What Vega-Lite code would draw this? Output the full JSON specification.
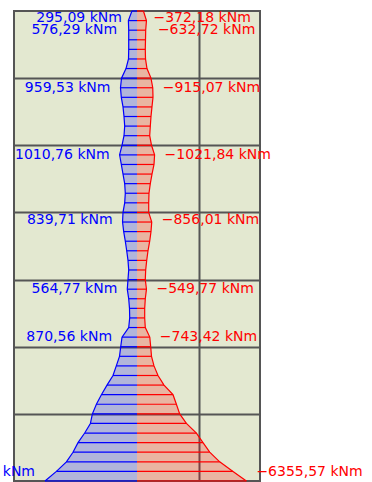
{
  "$schema": "https://vega.github.io/schema/vega-lite/v6.json",
  "width": 246,
  "height": 470,
  "autosize": {"type": "none"},
  "padding": {"left": 14, "top": 11, "right": 112, "bottom": 1},
  "background": "white",
  "config": {
    "view": {"fill": "#e3e8d0", "stroke": "#555555", "strokeWidth": 2},
    "axis": {"domain": false, "ticks": false, "labels": false, "grid": false},
    "text": {"font": "DejaVu Sans", "fontSize": 14}
  },
  "datasets": {
    "profile": [
      {"h": 0, "series": "Mmax", "M": 5346}, {"h": 0, "series": "Mmin", "M": -6355.57},
      {"h": 0.429, "series": "Mmax", "M": 4683}, {"h": 0.429, "series": "Mmin", "M": -5578},
      {"h": 0.857, "series": "Mmax", "M": 4102}, {"h": 0.857, "series": "Mmin", "M": -4805},
      {"h": 1.286, "series": "Mmax", "M": 3719}, {"h": 1.286, "series": "Mmin", "M": -4224},
      {"h": 1.714, "series": "Mmax", "M": 3428}, {"h": 1.714, "series": "Mmin", "M": -3835},
      {"h": 2.143, "series": "Mmax", "M": 3039}, {"h": 2.143, "series": "Mmin", "M": -3452},
      {"h": 2.571, "series": "Mmax", "M": 2708}, {"h": 2.571, "series": "Mmin", "M": -2870},
      {"h": 3, "series": "Mmax", "M": 2592}, {"h": 3, "series": "Mmin", "M": -2481},
      {"h": 3.429, "series": "Mmax", "M": 2359}, {"h": 3.429, "series": "Mmin", "M": -2289},
      {"h": 3.857, "series": "Mmax", "M": 2069}, {"h": 3.857, "series": "Mmin", "M": -2092},
      {"h": 4.286, "series": "Mmax", "M": 1743}, {"h": 4.286, "series": "Mmin", "M": -1569},
      {"h": 4.714, "series": "Mmax", "M": 1395}, {"h": 4.714, "series": "Mmin", "M": -1220},
      {"h": 5.143, "series": "Mmax", "M": 1203}, {"h": 5.143, "series": "Mmin", "M": -988},
      {"h": 5.571, "series": "Mmax", "M": 1017}, {"h": 5.571, "series": "Mmin", "M": -843},
      {"h": 6, "series": "Mmax", "M": 947}, {"h": 6, "series": "Mmin", "M": -796},
      {"h": 6.429, "series": "Mmax", "M": 870.56}, {"h": 6.429, "series": "Mmin", "M": -743.42},
      {"h": 6.857, "series": "Mmax", "M": 482}, {"h": 6.857, "series": "Mmin", "M": -482},
      {"h": 7.286, "series": "Mmax", "M": 424}, {"h": 7.286, "series": "Mmin", "M": -447},
      {"h": 7.714, "series": "Mmax", "M": 436}, {"h": 7.714, "series": "Mmin", "M": -447},
      {"h": 8.143, "series": "Mmax", "M": 482}, {"h": 8.143, "series": "Mmin", "M": -482},
      {"h": 8.571, "series": "Mmax", "M": 564.77}, {"h": 8.571, "series": "Mmin", "M": -549.77},
      {"h": 9, "series": "Mmax", "M": 523}, {"h": 9, "series": "Mmin", "M": -482},
      {"h": 9.429, "series": "Mmax", "M": 482}, {"h": 9.429, "series": "Mmin", "M": -505},
      {"h": 9.857, "series": "Mmax", "M": 523}, {"h": 9.857, "series": "Mmin", "M": -564},
      {"h": 10.286, "series": "Mmax", "M": 598}, {"h": 10.286, "series": "Mmin", "M": -639},
      {"h": 10.714, "series": "Mmax", "M": 680}, {"h": 10.714, "series": "Mmin", "M": -738},
      {"h": 11.143, "series": "Mmax", "M": 773}, {"h": 11.143, "series": "Mmin", "M": -813},
      {"h": 11.571, "series": "Mmax", "M": 839.71}, {"h": 11.571, "series": "Mmin", "M": -856.01},
      {"h": 12, "series": "Mmax", "M": 813}, {"h": 12, "series": "Mmin", "M": -680},
      {"h": 12.429, "series": "Mmax", "M": 715}, {"h": 12.429, "series": "Mmin", "M": -680},
      {"h": 12.857, "series": "Mmax", "M": 680}, {"h": 12.857, "series": "Mmin", "M": -697},
      {"h": 13.286, "series": "Mmax", "M": 715}, {"h": 13.286, "series": "Mmin", "M": -773},
      {"h": 13.714, "series": "Mmax", "M": 813}, {"h": 13.714, "series": "Mmin", "M": -872},
      {"h": 14.143, "series": "Mmax", "M": 912}, {"h": 14.143, "series": "Mmin", "M": -988},
      {"h": 14.571, "series": "Mmax", "M": 1010.76}, {"h": 14.571, "series": "Mmin", "M": -1021.84},
      {"h": 15, "series": "Mmax", "M": 872}, {"h": 15, "series": "Mmin", "M": -843},
      {"h": 15.429, "series": "Mmax", "M": 755}, {"h": 15.429, "series": "Mmin", "M": -738},
      {"h": 15.857, "series": "Mmax", "M": 715}, {"h": 15.857, "series": "Mmin", "M": -773},
      {"h": 16.286, "series": "Mmax", "M": 755}, {"h": 16.286, "series": "Mmin", "M": -813},
      {"h": 16.714, "series": "Mmax", "M": 813}, {"h": 16.714, "series": "Mmin", "M": -870},
      {"h": 17.143, "series": "Mmax", "M": 912}, {"h": 17.143, "series": "Mmin", "M": -930},
      {"h": 17.571, "series": "Mmax", "M": 959.53}, {"h": 17.571, "series": "Mmin", "M": -915.07},
      {"h": 18, "series": "Mmax", "M": 900}, {"h": 18, "series": "Mmin", "M": -813},
      {"h": 18.429, "series": "Mmax", "M": 640}, {"h": 18.429, "series": "Mmin", "M": -580},
      {"h": 18.857, "series": "Mmax", "M": 494}, {"h": 18.857, "series": "Mmin", "M": -494},
      {"h": 19.286, "series": "Mmax", "M": 482}, {"h": 19.286, "series": "Mmin", "M": -482},
      {"h": 19.714, "series": "Mmax", "M": 482}, {"h": 19.714, "series": "Mmin", "M": -494},
      {"h": 20.143, "series": "Mmax", "M": 482}, {"h": 20.143, "series": "Mmin", "M": -505},
      {"h": 20.571, "series": "Mmax", "M": 500}, {"h": 20.571, "series": "Mmin", "M": -550},
      {"h": 21, "series": "Mmax", "M": 295.09}, {"h": 21, "series": "Mmin", "M": -372.18}
    ],
    "labels": [
      {"h": 20.69, "series": "Mmax", "M": 295.09, "label": "295,09 kNm"},
      {"h": 20.15, "series": "Mmax", "M": 576.29, "label": "576,29 kNm"},
      {"h": 17.56, "series": "Mmax", "M": 959.53, "label": "959,53 kNm"},
      {"h": 14.57, "series": "Mmax", "M": 1010.76, "label": "1010,76 kNm"},
      {"h": 11.66, "series": "Mmax", "M": 839.71, "label": "839,71 kNm"},
      {"h": 8.58, "series": "Mmax", "M": 564.77, "label": "564,77 kNm"},
      {"h": 6.43, "series": "Mmax", "M": 870.56, "label": "870,56 kNm"},
      {"h": 0.4, "series": "Mmax", "M": 5346, "label": "5346,00 kNm"},
      {"h": 20.69, "series": "Mmin", "M": -372.18, "label": "−372,18 kNm"},
      {"h": 20.15, "series": "Mmin", "M": -632.72, "label": "−632,72 kNm"},
      {"h": 17.56, "series": "Mmin", "M": -915.07, "label": "−915,07 kNm"},
      {"h": 14.57, "series": "Mmin", "M": -1021.84, "label": "−1021,84 kNm"},
      {"h": 11.66, "series": "Mmin", "M": -856.01, "label": "−856,01 kNm"},
      {"h": 8.58, "series": "Mmin", "M": -549.77, "label": "−549,77 kNm"},
      {"h": 6.43, "series": "Mmin", "M": -743.42, "label": "−743,42 kNm"},
      {"h": 0.4, "series": "Mmin", "M": -6355.57, "label": "−6355,57 kNm"}
    ]
  },
  "layer": [
    {
      "data": {"name": "profile"},
      "mark": {"type": "area", "orient": "horizontal", "fillOpacity": 0.22},
      "encoding": {
        "y": {"field": "h", "type": "quantitative", "title": null,
              "scale": {"domain": [0, 21], "nice": false},
              "axis": {"grid": true, "values": [3, 6, 9, 12, 15, 18], "gridColor": "#555555", "gridWidth": 2, "gridOpacity": 1}},
        "x": {"field": "M", "type": "quantitative", "stack": null, "title": null,
              "scale": {"domain": [-7147, 7147], "nice": false, "reverse": true},
              "axis": {"grid": true, "values": [-3603], "gridColor": "#555555", "gridWidth": 2, "gridOpacity": 1}},
        "color": {"field": "series", "type": "nominal", "legend": null,
                  "scale": {"domain": ["Mmax", "Mmin"], "range": ["#0000ff", "#ff0000"]}}
      }
    },
    {
      "data": {"name": "profile"},
      "mark": {"type": "line", "strokeWidth": 1.2},
      "encoding": {
        "y": {"field": "h", "type": "quantitative", "title": null},
        "x": {"field": "M", "type": "quantitative", "title": null},
        "order": {"field": "h", "type": "quantitative"},
        "color": {"field": "series", "type": "nominal", "legend": null}
      }
    },
    {
      "data": {"name": "profile"},
      "mark": {"type": "rule", "strokeWidth": 1.2},
      "encoding": {
        "y": {"field": "h", "type": "quantitative", "title": null},
        "x": {"field": "M", "type": "quantitative", "title": null},
        "x2": {"datum": 0},
        "color": {"field": "series", "type": "nominal", "legend": null}
      }
    },
    {
      "mark": {"type": "rule", "color": "#111111", "strokeWidth": 1.5},
      "encoding": {
        "x": {"datum": 0}
      }
    },
    {
      "data": {"name": "labels"},
      "transform": [{"filter": "datum.M > 0"}],
      "mark": {"type": "text", "align": "right", "baseline": "middle", "dx": -10},
      "encoding": {
        "y": {"field": "h", "type": "quantitative", "title": null},
        "x": {"field": "M", "type": "quantitative", "title": null},
        "text": {"field": "label"},
        "color": {"field": "series", "type": "nominal", "legend": null}
      }
    },
    {
      "data": {"name": "labels"},
      "transform": [{"filter": "datum.M < 0"}],
      "mark": {"type": "text", "align": "left", "baseline": "middle", "dx": 10},
      "encoding": {
        "y": {"field": "h", "type": "quantitative", "title": null},
        "x": {"field": "M", "type": "quantitative", "title": null},
        "text": {"field": "label"},
        "color": {"field": "series", "type": "nominal", "legend": null}
      }
    }
  ]
}
